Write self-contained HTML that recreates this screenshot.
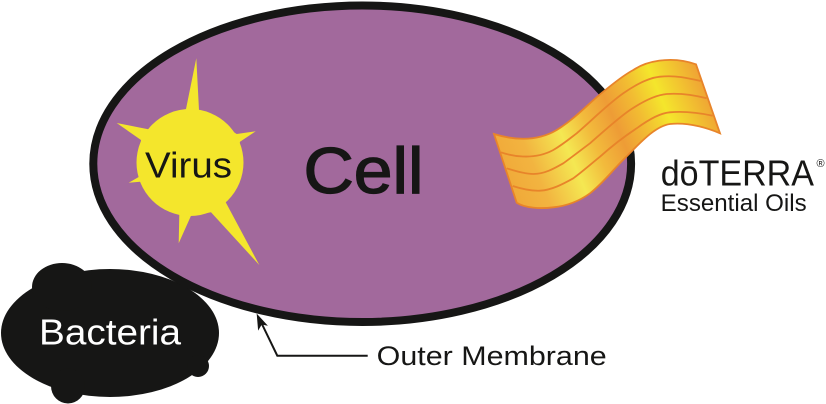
<!DOCTYPE html>
<html>
<head>
<meta charset="utf-8">
<style>
html,body{margin:0;padding:0;background:#fff;width:826px;height:404px;overflow:hidden}
svg{display:block}
text{font-family:"Liberation Sans",sans-serif}
</style>
</head>
<body>
<svg width="826" height="404" viewBox="0 0 826 404" xmlns="http://www.w3.org/2000/svg">
<defs>
<linearGradient id="g" gradientUnits="userSpaceOnUse" x1="485" y1="138" x2="692" y2="50">
<stop offset="0" stop-color="#f0a838"/>
<stop offset="0.15" stop-color="#f2b440"/>
<stop offset="0.32" stop-color="#f4e852"/>
<stop offset="0.44" stop-color="#f2bb3c"/>
<stop offset="0.56" stop-color="#ee9c36"/>
<stop offset="0.68" stop-color="#f2bd32"/>
<stop offset="0.79" stop-color="#f4e62c"/>
<stop offset="1" stop-color="#ef9f35"/>
</linearGradient>
</defs>
<!-- bacteria -->
<g fill="#161615">
<ellipse cx="110" cy="333" rx="109" ry="64"/>
<ellipse cx="62" cy="287" rx="30" ry="24"/>
<ellipse cx="68" cy="386" rx="17" ry="17.5"/>
<circle cx="198" cy="366" r="11"/>
</g>
<!-- cell -->
<ellipse cx="362.2" cy="163.75" rx="268.9" ry="158.25" fill="#a2699c" stroke="#161615" stroke-width="8"/>
<!-- virus -->
<path fill="#f4e62c" d="M186 109L196.3 58.3L199 110L236.7 134L255.7 131.3L240 141.7L225.7 202.3L259.3 265L211 212.3L191 215.7L178.7 243.3L179.3 214.3L140 181.7L128.7 182.7L138.7 177L141 140L116.7 123L148.3 129.3Z"/>
<circle cx="190" cy="162.5" r="53.5" fill="#f4e62c"/>
<text x="145" y="177.7" font-size="36" fill="#161615" textLength="87" lengthAdjust="spacingAndGlyphs">Virus</text>
<text x="303.500" y="193" font-size="65" fill="#161615" stroke="#161615" stroke-width="1.3" textLength="120" lengthAdjust="spacingAndGlyphs">Cell</text>
<!-- ribbon -->
<path fill="url(#g)" stroke="#e8842a" stroke-width="1.8" stroke-linejoin="miter" d="M494 134C510 139 535 143 556.700 130C575 119 590 102 603.300 91.700C613 84 622 76 633.300 70C645 62 670 55 696 64.300L720 133.300C710 129 690 122 670 124C655 126 640 143 623 160C612 171 603 183 590 193.300C578 202 566 206 553.300 207.300C540 209 525 208 516.700 202.700Z"/>
<g fill="none" stroke="#e8842a" stroke-width="1.8">
<path d="M501 152.300C510 155.500 533 161 553.300 150C562 145 568 140 576.700 133.300C590 122 608 104 623.300 93.300C635 85 648 78 660 76.700C675 75 688 78 700.700 81"/>
<path d="M506.700 168.300C515 171 525 174 533.300 174C545 174 555 168 563.300 163.300C572 157 581 150 590 143.300C603 132 617 119 630 110C642 102 655 95 666.700 94C680 93 694 95 706.700 98.300"/>
<path d="M512.700 186C522 189 532 191 540 190.700C552 190 563 184 573.300 178.300C582 172 591 164 600 156.700C612 146 625 136 636.700 128.300C648 120 660 113 670 112.300C685 111 700 113 712.700 115.700"/>
</g>
<text x="660.700" y="185.700" font-size="36" fill="#161615" textLength="153.300" lengthAdjust="spacingAndGlyphs">dōTERRA</text>
<text x="816.500" y="167" font-size="11" fill="#161615">®</text>
<text x="660.700" y="211" font-size="24" fill="#161615" textLength="146" lengthAdjust="spacingAndGlyphs">Essential Oils</text>
<text x="39" y="344.700" font-size="36" fill="#fff" textLength="142" lengthAdjust="spacingAndGlyphs">Bacteria</text>
<!-- pointer -->
<path d="M367.700 355.700H277.300L260 320" fill="none" stroke="#161615" stroke-width="2"/>
<path d="M257.300 315L266.500 325L261.500 324L258.500 329Z" fill="#161615" stroke="#161615" stroke-width="1"/>
<text x="376.700" y="365" font-size="27" fill="#161615" textLength="230" lengthAdjust="spacingAndGlyphs">Outer Membrane</text>
</svg>
</body>
</html>
